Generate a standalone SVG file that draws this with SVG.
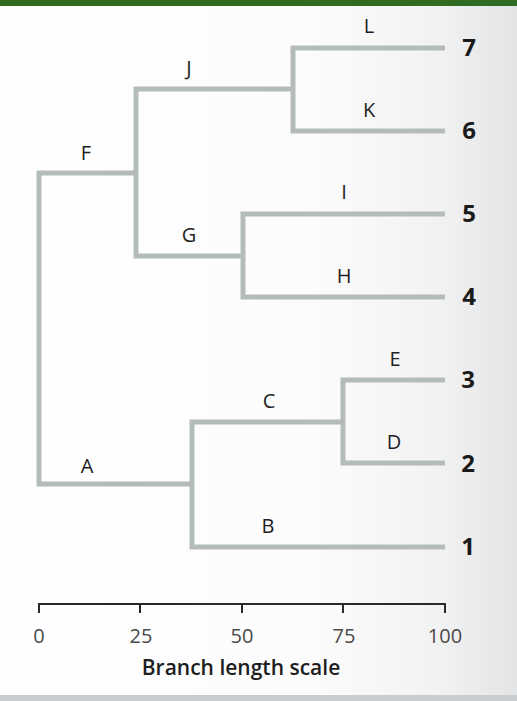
<svg xmlns="http://www.w3.org/2000/svg" width="517" height="701" viewBox="0 0 517 701">
  <defs>
    <linearGradient id="bg" x1="0" y1="0" x2="1" y2="0">
      <stop offset="0" stop-color="#ffffff"/>
      <stop offset="0.6" stop-color="#fcfcfc"/>
      <stop offset="0.85" stop-color="#f2f2f3"/>
      <stop offset="1" stop-color="#e3e4e5"/>
    </linearGradient>
  </defs>
  <style>
    .br { fill: none; stroke: #b3bcb7; stroke-width: 5; stroke-linejoin: miter; stroke-linecap: butt; }
    .ax { fill: none; stroke: #2a2a2a; stroke-width: 2; }
    .lbl { font-family: "Open Sans", "Noto Sans", sans-serif; font-size: 20px; fill: #1e1e1e; text-anchor: middle; }
    .tip { font-family: "Open Sans", "Noto Sans", sans-serif; font-size: 24px; font-weight: 700; fill: #1a1a1a; text-anchor: middle; }
    .tick { font-family: "Open Sans", "Noto Sans", sans-serif; font-size: 20px; font-weight: 400; fill: #4a4a4a; text-anchor: middle; }
    .title { font-family: "Open Sans", "Noto Sans", sans-serif; font-size: 21px; font-weight: 600; fill: #1e1e1e; text-anchor: middle; }
  </style>
  <rect x="0" y="0" width="517" height="701" fill="url(#bg)"/>
  <rect x="0" y="0" width="517" height="6" fill="#2f6b20"/>
  <rect x="0" y="695" width="517" height="6" fill="#c9cdcf"/>

  <g id="connectors">
    <path class="br" d="M136 173 H39 V484 H192"/>
    <path class="br" d="M293 89 H136 V256 H243"/>
    <path class="br" d="M445 48 H293 V131 H445"/>
    <path class="br" d="M445 214 H243 V297 H445"/>
    <path class="br" d="M343 422 H192 V547 H445"/>
    <path class="br" d="M445 380 H343 V463 H445"/>
  </g>

  <g id="node-A"><text class="lbl" x="87" y="473">A</text></g>
  <g id="node-B"><text class="lbl" x="268" y="533">B</text></g>
  <g id="node-C"><text class="lbl" x="269" y="408">C</text></g>
  <g id="node-D"><text class="lbl" x="394" y="449">D</text></g>
  <g id="node-E"><text class="lbl" x="395" y="366">E</text></g>
  <g id="node-F"><text class="lbl" x="86" y="160">F</text></g>
  <g id="node-G"><text class="lbl" x="189" y="242">G</text></g>
  <g id="node-H"><text class="lbl" x="344" y="283">H</text></g>
  <g id="node-I"><text class="lbl" x="344" y="199">I</text></g>
  <g id="node-J"><text class="lbl" x="189" y="75">J</text></g>
  <g id="node-K"><text class="lbl" x="369" y="117">K</text></g>
  <g id="node-L"><text class="lbl" x="369" y="33">L</text></g>

  <g id="tip-7"><text class="tip" x="469" y="56">7</text></g>
  <g id="tip-6"><text class="tip" x="469" y="139">6</text></g>
  <g id="tip-5"><text class="tip" x="469" y="222">5</text></g>
  <g id="tip-4"><text class="tip" x="469" y="305">4</text></g>
  <g id="tip-3"><text class="tip" x="468" y="388">3</text></g>
  <g id="tip-2"><text class="tip" x="468" y="472">2</text></g>
  <g id="tip-1"><text class="tip" x="468" y="555">1</text></g>

  <g id="scale">
    <path class="ax" d="M39 613 V604 H445 V613 M140 604 V613 M242 604 V613 M343 604 V613"/>
    <text class="tick" x="39" y="643">0</text>
    <text class="tick" x="141" y="643">25</text>
    <text class="tick" x="242" y="643">50</text>
    <text class="tick" x="344" y="643">75</text>
    <text class="tick" x="445" y="643">100</text>
    <text class="title" x="241" y="675">Branch length scale</text>
  </g>
</svg>
